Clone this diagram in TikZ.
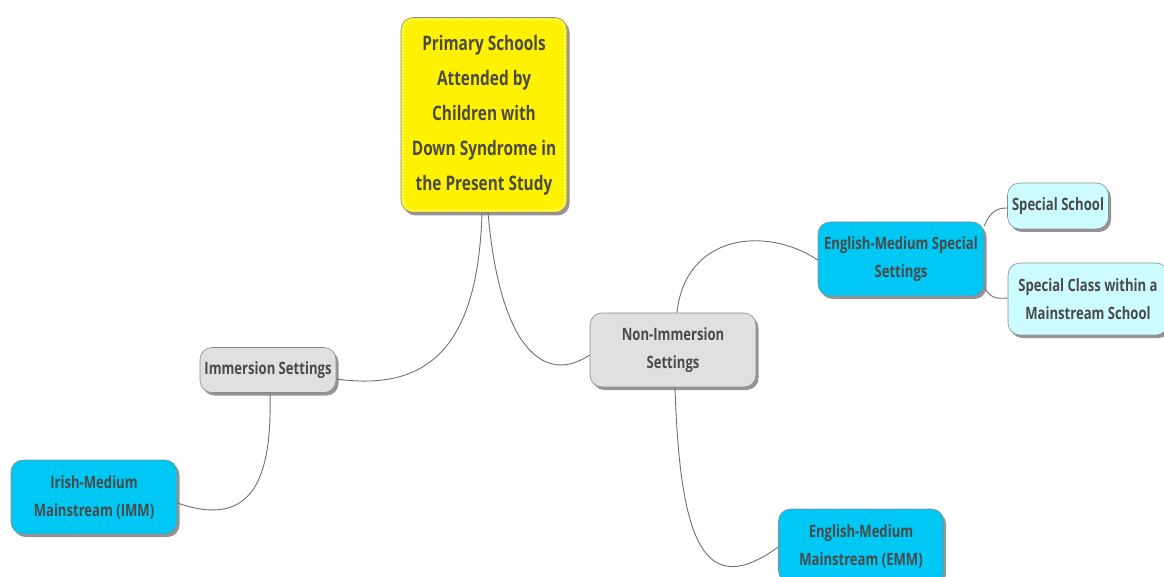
\documentclass[tikz,border=0pt]{standalone}
\usepackage{fontspec}
\setmainfont{Open Sans}[FakeStretch=0.77, BoldFont={Open Sans Bold}]
\usetikzlibrary{shadows}

\definecolor{txtgray}{HTML}{4A4A4A}
\definecolor{rootyel}{HTML}{FFF200}
\definecolor{midgray}{HTML}{E0E0E0}
\definecolor{deepcyan}{HTML}{00C8F5}
\definecolor{palecyan}{HTML}{CCFCFF}
\definecolor{linkgray}{HTML}{707070}

\begin{document}
\begin{tikzpicture}[
  x=1pt, y=-1pt,
  font=\bfseries\fontsize{17}{28}\selectfont,
  topic/.style={draw=black!45, rounded corners=12pt, align=center,
                text=txtgray, inner sep=0pt, line width=0.6pt,
                drop shadow={shadow xshift=2.5pt, shadow yshift=-3pt,
                             opacity=0.6, fill=black!70}},
  rootbox/.style={topic, fill=rootyel, minimum width=166pt,
                  minimum height=195pt,
                  font=\bfseries\fontsize{20}{35}\selectfont},
  grey/.style={topic, fill=midgray},
  deep/.style={topic, fill=deepcyan},
  pale/.style={topic, fill=palecyan},
  link/.style={draw=linkgray, line width=0.9pt},
]

  % --- Canvas ---
  \useasboundingbox (0,0) rectangle (1164,577);

  % --- Central topic ---
  \node[rootbox] (root) at (484,115)
    {Primary Schools\\Attended by\\Children with\\Down Syndrome in\\the Present Study};
  \draw[white, dotted, line width=1.2pt, rounded corners=10pt]
    ([shift={(2.5pt,-2.5pt)}]root.north west) rectangle ([shift={(-2.5pt,2.5pt)}]root.south east);

  % --- Main branches ---
  \node[grey, minimum width=136pt, minimum height=45pt] (imm) at (268,370)
    {Immersion Settings};
  \node[grey, minimum width=166pt, minimum height=74pt] (nonimm) at (673,350)
    {Non-Immersion\\Settings};

  % --- Sub branches ---
  \node[deep, minimum width=166pt, minimum height=74pt] (irish) at (94,497)
    {Irish-Medium\\Mainstream (IMM)};
  \node[deep, minimum width=166pt, minimum height=74pt] (emspec) at (901,259)
    {English-Medium Special\\Settings};
  \node[deep, minimum width=165pt, minimum height=74pt] (emmain) at (861,546)
    {English-Medium\\Mainstream (EMM)};

  % --- Leaves ---
  \node[pale, minimum width=101pt, minimum height=46pt] (school) at (1058,206)
    {Special School};
  \node[pale, minimum width=160pt, minimum height=72pt] (class) at (1088,299)
    {Special Class within a\\Mainstream School};

  % --- Connectors ---
  \draw[link] ([xshift=-2pt]root.south) .. controls (478,345) and (430,392) .. ([yshift=-9pt]imm.east);
  \draw[link] ([xshift=4pt]root.south) .. controls (500,350) and (545,385) .. ([yshift=-5pt]nonimm.west);
  \draw[link] ([xshift=2pt]imm.south) .. controls (272,475) and (255,530) .. ([yshift=-6pt]irish.east);
  \draw[link] ([xshift=4pt]nonimm.north) .. controls (685,235) and (765,225) .. ([yshift=-1pt]emspec.west);
  \draw[link] ([xshift=2pt]nonimm.south) .. controls (680,545) and (705,600) .. ([yshift=-1pt]emmain.west);
  \draw[link] ([yshift=33pt]emspec.east) .. controls (990,212) and (996,208) .. ([yshift=-2pt]school.west);
  \draw[link] ([yshift=-28pt]emspec.east) .. controls (990,298) and (996,299) .. ([yshift=1pt]class.west);

\end{tikzpicture}
\end{document}
